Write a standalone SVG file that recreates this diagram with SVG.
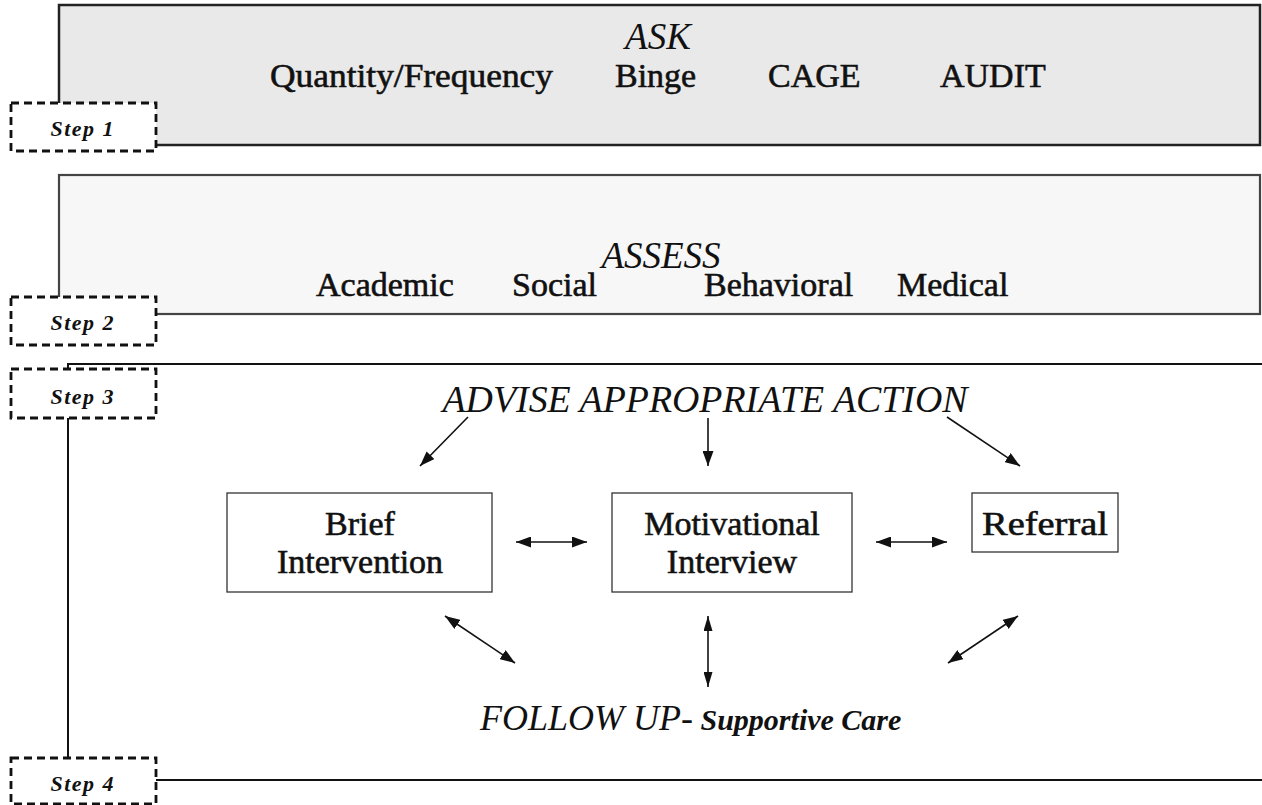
<svg xmlns="http://www.w3.org/2000/svg" width="1262" height="805" viewBox="0 0 1262 805">
<style>
text{font-family:"Liberation Serif","DejaVu Serif",serif;fill:#111;}
.w{font-size:34px;stroke:#111;stroke-width:0.6;}
.h{font-size:37px;font-style:italic;}
.st{font-size:22px;font-style:italic;font-weight:bold;}
.step{fill:#fff;stroke:#111;stroke-width:2.8;stroke-dasharray:8 5;}
.node{fill:#fff;stroke:#333;stroke-width:1.3;}
.c{stroke:#111;stroke-width:1.6;fill:none;}
</style>
<defs>
<marker id="ah" markerUnits="userSpaceOnUse" markerWidth="15" markerHeight="11" refX="15" refY="5.5" orient="auto-start-reverse">
<path d="M0,0 L15,5.5 L0,11 z" fill="#111"/>
</marker>
<marker id="ahs" markerUnits="userSpaceOnUse" markerWidth="15" markerHeight="9" refX="15" refY="4.5" orient="auto-start-reverse">
<path d="M0,0 L15,4.5 L0,9 z" fill="#111"/>
</marker>
</defs>

<g id="ask">
<rect x="59" y="5" width="1201" height="140" fill="#e9e9e9" stroke="#222" stroke-width="2.5"/>
<text class="h" x="658" y="49" text-anchor="middle">ASK</text>
<text class="w" x="270" y="87" textLength="283" lengthAdjust="spacingAndGlyphs">Quantity/Frequency</text>
<text class="w" x="615" y="87">Binge</text>
<text class="w" x="768" y="87">CAGE</text>
<text class="w" x="940" y="87">AUDIT</text>
</g>

<g id="assess">
<rect x="59" y="175" width="1201" height="139" fill="#f7f7f7" stroke="#444" stroke-width="2.2"/>
<text class="h" x="661" y="268" text-anchor="middle">ASSESS</text>
<text class="w" x="316" y="296">Academic</text>
<text class="w" x="512" y="296">Social</text>
<text class="w" x="704" y="296">Behavioral</text>
<text class="w" x="897" y="296">Medical</text>
</g>

<g id="advise-frame">
<rect x="68" y="364" width="1300" height="416" fill="none" stroke="#111" stroke-width="2"/>
<text class="h" x="705" y="412" text-anchor="middle" textLength="525" lengthAdjust="spacingAndGlyphs">ADVISE APPROPRIATE ACTION</text>
</g>

<g id="brief">
<rect class="node" x="227" y="493" width="265" height="99"/>
<text class="w" x="360" y="535" text-anchor="middle">Brief</text>
<text class="w" x="360" y="573" text-anchor="middle">Intervention</text>
</g>

<g id="motivational">
<rect class="node" x="612" y="493" width="240" height="99"/>
<text class="w" x="732" y="535" text-anchor="middle">Motivational</text>
<text class="w" x="732" y="573" text-anchor="middle">Interview</text>
</g>

<g id="referral">
<rect class="node" x="972" y="493" width="146" height="59"/>
<text class="w" x="1045" y="535" text-anchor="middle" textLength="126" lengthAdjust="spacingAndGlyphs">Referral</text>
</g>

<g id="followup">
<text x="480" y="730"><tspan style="font-size:36px;font-style:italic">FOLLOW UP-</tspan><tspan style="font-size:30px;font-style:italic;font-weight:bold"> Supportive Care</tspan></text>
</g>

<g id="connectors">
<line class="c" x1="468" y1="417" x2="420" y2="466" marker-end="url(#ah)"/>
<line class="c" x1="708" y1="418" x2="708" y2="466" marker-end="url(#ah)"/>
<line class="c" x1="947" y1="417" x2="1020" y2="466" marker-end="url(#ah)"/>
<line class="c" x1="516" y1="542" x2="587" y2="542" marker-start="url(#ah)" marker-end="url(#ah)"/>
<line class="c" x1="876" y1="542" x2="947" y2="542" marker-start="url(#ah)" marker-end="url(#ah)"/>
<line class="c" x1="445" y1="616" x2="515" y2="663" marker-start="url(#ah)" marker-end="url(#ah)"/>
<line class="c" x1="708" y1="616" x2="708" y2="687" stroke-width="1.1" marker-start="url(#ahs)" marker-end="url(#ahs)"/>
<line class="c" x1="1018" y1="616" x2="948" y2="663" marker-start="url(#ah)" marker-end="url(#ah)"/>
</g>

<g id="step1"><rect class="step" x="11" y="103" width="145" height="48"/><text class="st" x="82" y="136" text-anchor="middle" textLength="63">Step 1</text></g>
<g id="step2"><rect class="step" x="11" y="297" width="145" height="48"/><text class="st" x="82" y="330" text-anchor="middle" textLength="63">Step 2</text></g>
<g id="step3"><rect class="step" x="11" y="369" width="145" height="49"/><text class="st" x="82" y="404" text-anchor="middle" textLength="63">Step 3</text></g>
<g id="step4"><rect class="step" x="11" y="758" width="145" height="46"/><text class="st" x="82" y="791" text-anchor="middle" textLength="63">Step 4</text></g>
</svg>
